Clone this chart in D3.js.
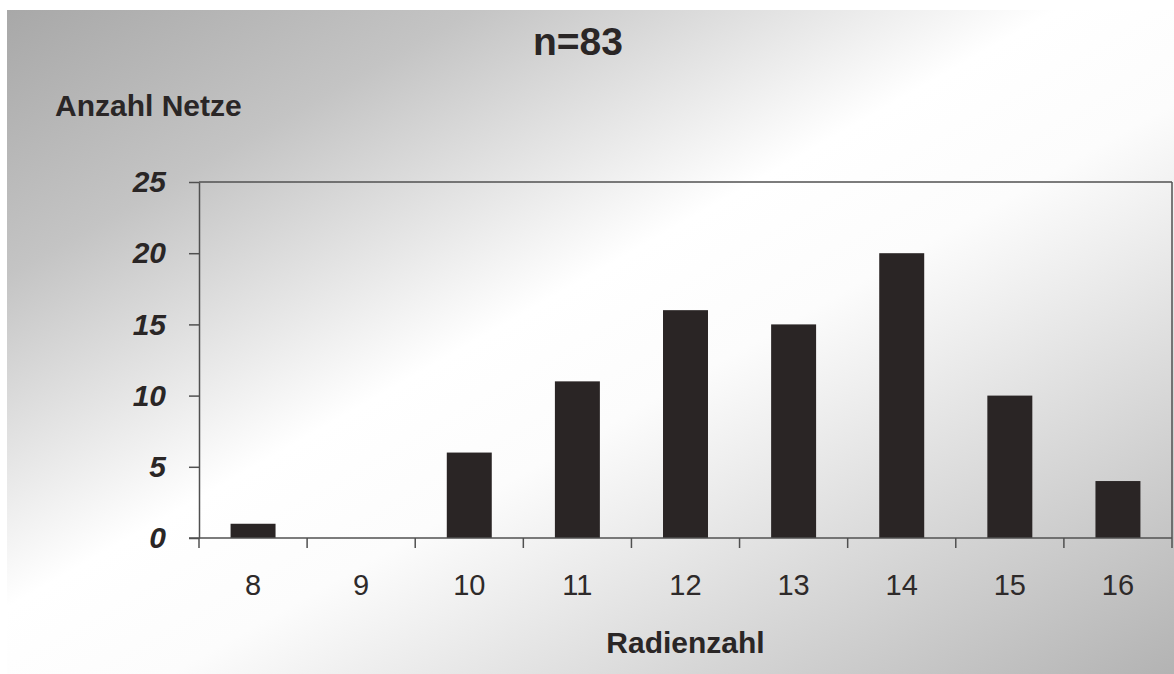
<!DOCTYPE html>
<html>
<head>
<meta charset="utf-8">
<script src="https://cdn.jsdelivr.net/npm/d3@7"></script>
<style>
  body { margin: 0; background: #fff; }
  text { font-family: "Liberation Sans", Arial, sans-serif; }
</style>
</head>
<body>
<svg id="chart" width="1174" height="674"></svg>
<script>
// Radienzahl categories and counts (Anzahl Netze)
var categories = ["8", "9", "10", "11", "12", "13", "14", "15", "16"];
var counts = [1, 0, 6, 11, 16, 15, 20, 10, 4];
var yTicks = [0, 5, 10, 15, 20, 25];
var title = "n=83";
var yLabel = "Anzahl Netze";
var xLabel = "Radienzahl";

var svg = d3.select("#chart"),
    width = +svg.attr("width"),
    height = +svg.attr("height"),
    margin = {top: 182, right: 2, bottom: 136, left: 199};

var data = categories.map(function(c, i) { return {cat: c, value: counts[i]}; });

// scanned-paper style diagonal gradient: gray corner, white band, gray corner
var defs = svg.append("defs");
var grad = defs.append("linearGradient")
    .attr("id", "bg")
    .attr("x1", 0).attr("y1", 0).attr("x2", 1).attr("y2", 1);
grad.append("stop").attr("offset", "0%").attr("stop-color", "#a8a8a8");
grad.append("stop").attr("offset", "20%").attr("stop-color", "#c4c4c4");
grad.append("stop").attr("offset", "45%").attr("stop-color", "#ffffff");
grad.append("stop").attr("offset", "57%").attr("stop-color", "#fcfcfc");
grad.append("stop").attr("offset", "100%").attr("stop-color", "#b3b3b3");

svg.append("rect")
    .attr("x", 7).attr("y", 10)
    .attr("width", width - 7).attr("height", height - 10)
    .attr("fill", "url(#bg)");

var x0 = margin.left, x1 = width - margin.right,
    y0 = height - margin.bottom, y1 = margin.top;

var xScale = d3.scaleBand()
    .domain(categories)
    .range([x0, x1])
    .paddingInner(0.584)
    .paddingOuter(0.292);

var yScale = d3.scaleLinear()
    .domain([0, 25])
    .range([y0, y1]);

var axisColor = "#505050";

// bars
svg.append("g").selectAll("rect")
    .data(data)
    .enter()
    .append("rect")
    .attr("x", function(d) { return xScale(d.cat); })
    .attr("width", xScale.bandwidth())
    .attr("y", function(d) { return yScale(d.value); })
    .attr("height", function(d) { return y0 - yScale(d.value); })
    .attr("fill", "#2a2525");

// top and right border of the plot area
svg.append("line")
    .attr("x1", x0).attr("x2", x1).attr("y1", y1).attr("y2", y1)
    .attr("stroke", axisColor).attr("stroke-width", 1.5);
svg.append("line")
    .attr("x1", x1).attr("x2", x1).attr("y1", y1).attr("y2", y0)
    .attr("stroke", axisColor).attr("stroke-width", 1.5);

// y axis
var yAxis = d3.axisLeft(yScale)
    .tickValues(yTicks)
    .tickSize(10)
    .tickPadding(23)
    .tickSizeOuter(0);
var yg = svg.append("g")
    .attr("transform", "translate(" + x0 + ",0)")
    .call(yAxis);
yg.selectAll("line, path").attr("stroke", axisColor).attr("stroke-width", 1.5);
yg.selectAll("text")
    .attr("font-size", 30)
    .attr("font-weight", "bold")
    .attr("font-style", "italic")
    .attr("fill", "#2a2626")
    .style("font-family", "'Liberation Sans', Arial, sans-serif");

// x axis: ticks between categories, labels centered in bands
var edges = categories.map(function(c) { return xScale(c) - xScale.step() * xScale.paddingInner() / 2; });
edges.push(x1);
var xg = svg.append("g");
xg.append("line")
    .attr("x1", x0 - 10).attr("x2", x1).attr("y1", y0).attr("y2", y0)
    .attr("stroke", axisColor).attr("stroke-width", 1.5);
xg.selectAll(".tick")
    .data(edges)
    .enter()
    .append("line")
    .attr("x1", function(d) { return d; })
    .attr("x2", function(d) { return d; })
    .attr("y1", y0).attr("y2", y0 + 10)
    .attr("stroke", axisColor).attr("stroke-width", 1.5);
xg.selectAll(".lbl")
    .data(categories)
    .enter()
    .append("text")
    .attr("x", function(d) { return xScale(d) + xScale.bandwidth() / 2; })
    .attr("y", 595)
    .attr("text-anchor", "middle")
    .attr("font-size", 29)
    .attr("fill", "#2e2a2a")
    .text(function(d) { return d; });

// titles
svg.append("text")
    .attr("x", 578).attr("y", 55)
    .attr("text-anchor", "middle")
    .attr("font-size", 39).attr("font-weight", "bold")
    .attr("fill", "#2a2626")
    .text(title);

svg.append("text")
    .attr("x", 55).attr("y", 116)
    .attr("font-size", 30).attr("font-weight", "bold")
    .attr("fill", "#2a2626")
    .text(yLabel);

svg.append("text")
    .attr("x", (x0 + x1) / 2).attr("y", 653)
    .attr("text-anchor", "middle")
    .attr("font-size", 30).attr("font-weight", "bold")
    .attr("fill", "#2a2626")
    .text(xLabel);
</script>
</body>
</html>
